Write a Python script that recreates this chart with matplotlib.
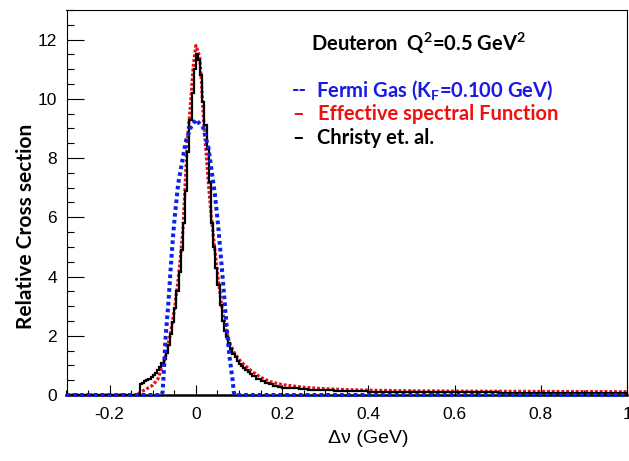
import numpy as np
import matplotlib.pyplot as plt
from matplotlib.ticker import MultipleLocator, FuncFormatter

# --- data ---
# Fermi gas model (K_F = 0.100 GeV)
fermi_x = [-0.30, -0.080, -0.077, -0.074, -0.070, -0.064, -0.058, -0.053, -0.049, -0.041,
           -0.030, -0.023, -0.012, 0.000, 0.017, 0.029, 0.044, 0.052, 0.060, 0.066,
           0.072, 0.078, 0.085, 0.088, 0.090, 1.00]
fermi_y = [0.0, 0.0, 0.1, 0.87, 1.99, 3.05, 4.34, 5.35, 6.01, 7.13,
           8.02, 8.58, 9.03, 9.30, 9.03, 8.36, 6.80, 5.68, 4.34, 3.3,
           2.2, 1.3, 0.54, 0.1, 0.0, 0.0]

# effective spectral function
esf_x = [-0.30, -0.14, -0.13, -0.115, -0.10, -0.088, -0.072, -0.060, -0.050, -0.041,
         -0.036, -0.030, -0.025, -0.020, -0.014, -0.010, -0.006, 0.000, 0.005, 0.009,
         0.013, 0.017, 0.021, 0.030, 0.036, 0.044, 0.052, 0.060, 0.070, 0.080,
         0.090, 0.100, 0.110, 0.130, 0.150, 0.172, 0.200, 0.250, 0.288, 0.350,
         0.405, 0.500, 0.600, 0.800, 1.000]
esf_y = [0.0, 0.0, 0.08, 0.2, 0.33, 0.54, 1.21, 1.99, 2.85, 3.9,
         4.6, 5.6, 7.0, 8.6, 9.5, 10.3, 11.1, 11.8, 11.6, 11.4,
         10.6, 9.5, 8.7, 7.0, 6.0, 4.9, 3.9, 3.0, 2.2, 1.7,
         1.4, 1.2, 1.05, 0.8, 0.6, 0.45, 0.35, 0.26, 0.22, 0.18,
         0.16, 0.14, 0.13, 0.12, 0.11]

# Christy et al. (histogram, variable bins: 0.005 in the core, wider in the tail)
christy_edges = np.concatenate([[-0.30],
                                np.arange(-26, 26) / 200,
                                np.arange(13, 20) / 100,
                                np.arange(20, 40, 2) / 100,
                                np.arange(40, 101, 5) / 100])
christy_vals = [0.0,
                # -0.13 .. 0.13 (0.005 bins)
                0.38, 0.42, 0.46, 0.50, 0.55, 0.60, 0.67, 0.75, 0.84, 0.95,
                1.07, 1.22, 1.42, 1.70, 2.05, 2.45, 2.95, 3.5, 4.15, 4.9,
                5.8, 6.9, 8.2, 9.3, 10.2, 11.0, 11.5, 11.3, 10.8, 9.9,
                9.1, 8.3, 7.2, 5.8, 5.0, 4.3, 3.7, 3.05, 2.5, 2.15,
                1.95, 1.75, 1.55, 1.4, 1.27, 1.15, 1.06, 0.98, 0.90, 0.83,
                0.76, 0.70,
                # 0.13 .. 0.20 (0.01 bins)
                0.63, 0.54, 0.47, 0.41, 0.37, 0.31, 0.28,
                # 0.20 .. 0.40 (0.02 bins)
                0.25, 0.22, 0.20, 0.18, 0.17, 0.155, 0.145, 0.135, 0.13, 0.125,
                # 0.40 .. 1.00 (0.05 bins)
                0.115, 0.11, 0.10, 0.095, 0.09, 0.085, 0.08, 0.075, 0.07, 0.065, 0.06, 0.06]

W, H = 629, 461
TICK_FONT = ['Liberation Sans Narrow', 'Liberation Sans']
BOLD_FONT = ['Lato', 'DejaVu Sans']
TXT = 14.5

plt.rcParams['mathtext.fontset'] = 'custom'
plt.rcParams['mathtext.rm'] = 'Lato:bold'
plt.rcParams['mathtext.it'] = 'Lato:bold'
plt.rcParams['mathtext.bf'] = 'Lato:bold'

fig = plt.figure(figsize=(W / 100, H / 100), dpi=100)
ax = fig.add_axes([66.5 / W, (H - 395) / H, 560.5 / W, 385 / H])

ax.plot(esf_x, esf_y, color='#e8101a', lw=2.3, linestyle=(0, (0.9, 0.6)),
        dash_capstyle='butt', clip_on=False, zorder=3)
ax.stairs(christy_vals, christy_edges, color='black', lw=1.6, baseline=0,
          clip_on=False, zorder=4)
ax.plot(fermi_x, fermi_y, color='#0a22e8', lw=2.9, linestyle=(0, (0.9, 0.8)),
        dash_capstyle='butt', clip_on=False, zorder=5)

ax.set_xlim(-0.3, 1.0)
ax.set_ylim(0, 13.0)

ax.xaxis.set_major_locator(MultipleLocator(0.2))
ax.xaxis.set_minor_locator(MultipleLocator(0.05))
ax.yaxis.set_major_locator(MultipleLocator(2))
ax.yaxis.set_minor_locator(MultipleLocator(0.5))
ax.xaxis.set_major_formatter(FuncFormatter(lambda v, p: f'{round(v, 2):g}'))

ax.tick_params(axis='x', which='major', direction='in', length=7.2, width=0.8, pad=8.5)
ax.tick_params(axis='x', which='minor', direction='in', length=3.6, width=0.8)
ax.tick_params(axis='y', which='major', direction='in', length=12, width=0.8, pad=7)
ax.tick_params(axis='y', which='minor', direction='in', length=5.3, width=0.8)

for lab in ax.get_xticklabels() + ax.get_yticklabels():
    lab.set_family(TICK_FONT)
    lab.set_fontsize(12.5)

for s in ax.spines.values():
    s.set_linewidth(0.8)
ax.spines['bottom'].set_linewidth(1.8)

fig.text(368 / W, 1 - 438 / H, 'Δν (GeV)', family=['Liberation Sans'], fontsize=14,
         ha='center', va='center')
fig.text(26 / W, 1 - 226 / H, 'Relative Cross section', family=BOLD_FONT,
         fontweight='bold', fontsize=15, rotation=90, ha='center', va='center')

# annotation block (drawn as text, like the original)
fig.text(311 / W, 1 - 43 / H, 'Deuteron  Q$^{2}$=0.5 GeV$^{2}$', family=BOLD_FONT,
         fontweight='bold', fontsize=TXT, ha='left', va='center')

rows = [('--', 'Fermi Gas (K$_{\\mathrm{F}}$=0.100 GeV)', '#1a1ae6', 90, 316),
        ('–', 'Effective spectral Function', '#f01010', 114, 318),
        ('–', 'Christy et. al.', 'black', 138, 317)]
for dash, label, col, ypix, xlab in rows:
    fig.text(292 / W, 1 - ypix / H, dash, family=BOLD_FONT, fontweight='bold',
             fontsize=TXT, color=col, ha='left', va='center')
    fig.text(xlab / W, 1 - ypix / H, label, family=BOLD_FONT, fontweight='bold',
             fontsize=TXT, color=col, ha='left', va='center')

fig.savefig('out.png', dpi=100)
